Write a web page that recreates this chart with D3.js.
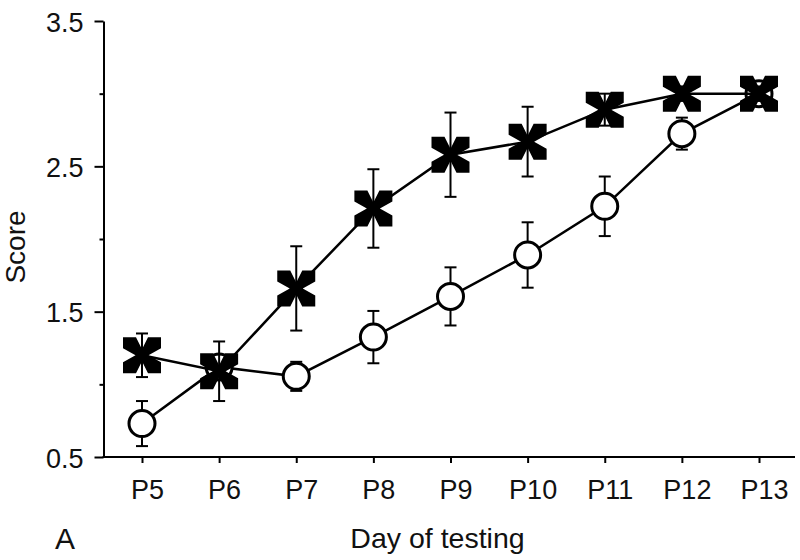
<!DOCTYPE html>
<html>
<head>
<meta charset="utf-8">
<script src="https://cdn.jsdelivr.net/npm/d3@7"></script>
<style>
  html, body { margin: 0; padding: 0; background: #fff; }
  svg { display: block; font-family: "Liberation Sans", Arial, sans-serif; }
</style>
</head>
<body>
<svg id="chart" width="800" height="560"></svg>
<script>
// ---- data ----
const days = ["P5", "P6", "P7", "P8", "P9", "P10", "P11", "P12", "P13"];
const crossMean = [1.20, 1.09, 1.66, 2.21, 2.58, 2.67, 2.89, 3.00, 3.00];
const crossErr  = [0.15, 0.205, 0.29, 0.27, 0.29, 0.24, 0.11, 0.05, 0.05];
const circleMean = [0.73, 1.12, 1.055, 1.325, 1.605, 1.89, 2.225, 2.725, 3.00];
const circleErr  = [0.155, 0.08, 0.10, 0.18, 0.20, 0.225, 0.205, 0.11, 0.05];
const yMajorTicks = [0.5, 1.5, 2.5, 3.5];
const yMinorTicks = [1.0, 2.0, 3.0];
const xTitle = "Day of testing";
const yTitle = "Score";
const panelLabel = "A";

// ---- layout ----
const svg = d3.select("#chart");
const x = d3.scalePoint().domain(days).range([142, 759]);
const y = d3.scaleLinear().domain([0.5, 3.5]).range([457, 21]);
const axisX0 = 103.5, axisXEnd = 795;

const crossData = days.map((d, i) => ({ day: d, v: crossMean[i], e: crossErr[i] }));
const circleData = days.map((d, i) => ({ day: d, v: circleMean[i], e: circleErr[i] }));

// ---- axes ----
const yAxis = d3.axisLeft(y).tickValues(yMajorTicks).tickSize(9).tickSizeOuter(0)
  .tickFormat(d3.format(".1f"));
const gy = svg.append("g").attr("transform", `translate(${axisX0},0)`).call(yAxis);
gy.select(".domain").attr("stroke", "#000").attr("stroke-width", 2);
gy.selectAll(".tick line").attr("stroke", "#000").attr("stroke-width", 2);
gy.selectAll(".tick text")
  .attr("x", -20).attr("dy", null).attr("y", 10)
  .attr("font-size", 27).attr("fill", "#111")
  .style("font-family", "'Liberation Sans', Arial, sans-serif");

const yMinor = d3.axisLeft(y).tickValues(yMinorTicks).tickSize(4).tickSizeOuter(0).tickFormat("");
const gym = svg.append("g").attr("transform", `translate(${axisX0},0)`).call(yMinor);
gym.select(".domain").remove();
gym.selectAll(".tick line").attr("stroke", "#000").attr("stroke-width", 2);

// x axis
svg.append("line")
  .attr("x1", axisX0 - 1).attr("x2", axisXEnd)
  .attr("y1", y(0.5)).attr("y2", y(0.5))
  .attr("stroke", "#000").attr("stroke-width", 2);
const xAxis = d3.axisBottom(x).tickSize(6).tickSizeOuter(0);
const gx = svg.append("g").attr("transform", `translate(0,${y(0.5)})`).call(xAxis);
gx.select(".domain").remove();
gx.selectAll(".tick line").attr("stroke", "#000").attr("stroke-width", 2);
gx.selectAll(".tick text")
  .attr("y", 42).attr("dy", null).attr("x", 5)
  .attr("font-size", 27).attr("fill", "#111")
  .style("font-family", "'Liberation Sans', Arial, sans-serif");

// titles
svg.append("text").attr("x", 437.5).attr("y", 548).attr("text-anchor", "middle")
  .attr("font-size", 28.5).attr("fill", "#111").text(xTitle);
svg.append("text").attr("transform", "translate(25,247) rotate(-90)")
  .attr("text-anchor", "middle").attr("font-size", 28).attr("fill", "#111").text(yTitle);
svg.append("text").attr("x", 65).attr("y", 549).attr("text-anchor", "middle")
  .attr("font-size", 30).attr("fill", "#111").text(panelLabel);

// ---- series helpers ----
const line = d3.line().x(d => x(d.day)).y(d => y(d.v));
const capHalf = 6;

function drawErrors(g, data) {
  const eb = g.append("g").attr("stroke", "#000").attr("stroke-width", 2);
  data.forEach(d => {
    const cx = x(d.day), y1 = y(d.v - d.e), y2 = y(d.v + d.e);
    eb.append("line").attr("x1", cx).attr("x2", cx).attr("y1", y1).attr("y2", y2);
    eb.append("line").attr("x1", cx - capHalf).attr("x2", cx + capHalf).attr("y1", y1).attr("y2", y1);
    eb.append("line").attr("x1", cx - capHalf).attr("x2", cx + capHalf).attr("y1", y2).attr("y2", y2);
  });
}

// ---- circle series ----
const gc = svg.append("g");
gc.append("path").datum(circleData).attr("d", line)
  .attr("fill", "none").attr("stroke", "#000").attr("stroke-width", 2.5);
drawErrors(gc, circleData);
gc.selectAll("circle").data(circleData).join("circle")
  .attr("cx", d => x(d.day)).attr("cy", d => y(d.v)).attr("r", 13)
  .attr("fill", "#fff").attr("stroke", "#000").attr("stroke-width", 3);

// ---- cross series ----
const gx2 = svg.append("g");
gx2.append("path").datum(crossData).attr("d", line)
  .attr("fill", "none").attr("stroke", "#000").attr("stroke-width", 2.5);
drawErrors(gx2, crossData);
// bold X marker outline (symmetric), half-width 19, half-height 18
const sx = 19, sy = 18, nw = 6, nd = 12, sh = 7, sd = 12.5;
const crossPts = [
  [-sx, -sy], [-nw, -sy], [0, -sy + nd], [nw, -sy], [sx, -sy],
  [sx, -sh], [sx - sd, 0], [sx, sh], [sx, sy],
  [nw, sy], [0, sy - nd], [-nw, sy], [-sx, sy],
  [-sx, sh], [-sx + sd, 0], [-sx, -sh]
];
const crossD = "M" + crossPts.map(p => p.join(",")).join("L") + "Z";
gx2.selectAll("path.cross").data(crossData).join("path")
  .attr("class", "cross")
  .attr("transform", d => `translate(${x(d.day)},${y(d.v)})`)
  .attr("d", crossD)
  .attr("fill", "#000");
</script>
</body>
</html>
